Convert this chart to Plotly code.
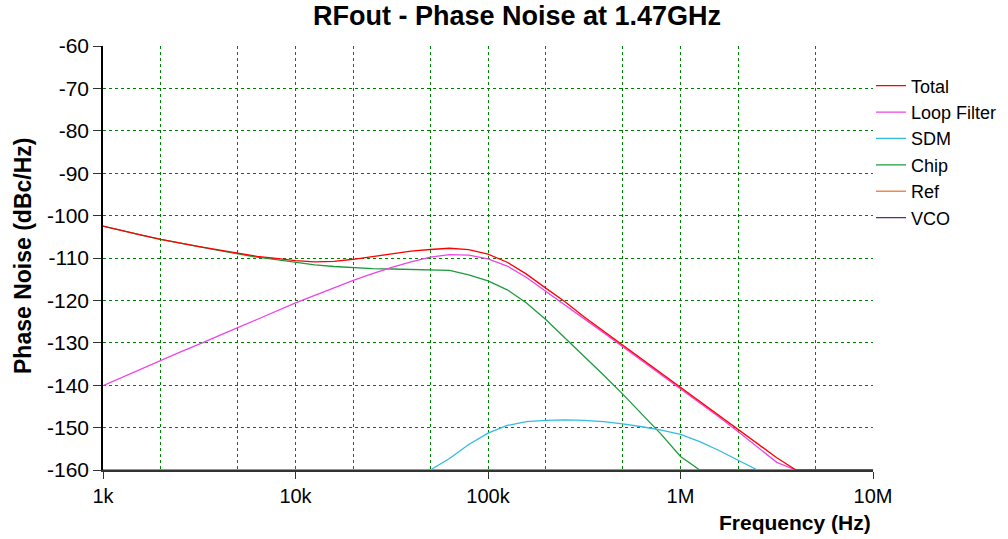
import plotly.graph_objects as go

# log10 of frequency, 10 points per decade
log_f = [3.0, 3.1, 3.2, 3.3, 3.4, 3.5, 3.6, 3.7, 3.8, 3.9,
         4.0, 4.1, 4.2, 4.3, 4.4, 4.5, 4.6, 4.7, 4.8, 4.9,
         5.0, 5.1, 5.2, 5.3, 5.4, 5.5, 5.6, 5.7, 5.8, 5.9,
         6.0, 6.1, 6.2, 6.3, 6.4, 6.5, 6.6, 6.7, 6.8, 6.9, 7.0]
freq = [10 ** v for v in log_f]

total = [-102.5, -103.6, -104.6, -105.6, -106.5, -107.3, -108.1, -108.9, -109.6, -110.1,
         -110.6, -110.9, -110.8, -110.3, -109.7, -109.0, -108.4, -108.0, -107.7, -108.0,
         -109.1, -111.0, -113.8, -117.1, -120.3, -123.9, -127.2, -130.5, -133.8, -137.1,
         -140.4, -143.7, -147.0, -150.3, -153.7, -157.1, -160.0, -160.0, -160.0, -160.0, -160.0]

loop_filter = [-140.1, -138.1, -136.1, -134.2, -132.2, -130.3, -128.3, -126.4, -124.5, -122.5,
               -120.6, -118.8, -117.0, -115.3, -113.7, -112.2, -110.9, -109.8, -109.2, -109.3,
               -110.2, -111.9, -114.6, -117.8, -121.0, -124.3, -127.6, -130.9, -134.2, -137.5,
               -140.8, -144.1, -147.5, -151.0, -154.5, -158.2, -160.0, -160.0, -160.0, -160.0, -160.0]

sdm = [-160.0, -160.0, -160.0, -160.0, -160.0, -160.0, -160.0, -160.0, -160.0, -160.0,
       -160.0, -160.0, -160.0, -160.0, -160.0, -160.0, -160.0, -160.0, -157.3, -154.0,
       -151.3, -149.5, -148.6, -148.3, -148.2, -148.3, -148.6, -149.1, -149.8, -150.6,
       -151.6, -153.3, -155.4, -157.8, -160.0, -160.0, -160.0, -160.0, -160.0, -160.0, -160.0]

chip = [-102.5, -103.6, -104.6, -105.6, -106.5, -107.3, -108.2, -109.0, -109.8, -110.4,
        -111.0, -111.6, -112.0, -112.3, -112.5, -112.6, -112.7, -112.7, -112.9, -114.0,
        -115.4, -117.5, -120.6, -124.5, -128.8, -133.2, -137.6, -142.1, -146.8, -151.6,
        -156.8, -160.0, -160.0, -160.0, -160.0, -160.0, -160.0, -160.0, -160.0, -160.0, -160.0]

ref = [-160.0] * len(log_f)
vco = [-160.0] * len(log_f)

series_names = ["Total", "Loop Filter", "SDM", "Chip", "Ref", "VCO"]
series_values = [total, loop_filter, sdm, chip, ref, vco]
series_colors = ["#ff0000", "#ee44e6", "#33bbe0", "#1e9a3c", "#f08a50", "#5a2a8a"]

x_tick_vals = [1e3, 1e4, 1e5, 1e6, 1e7]
x_tick_text = ["1k", "10k", "100k", "1M", "10M"]
x_minor_vals = [2e3, 5e3, 2e4, 5e4, 2e5, 5e5, 2e6, 5e6]
y_tick_vals = [-60, -70, -80, -90, -100, -110, -120, -130, -140, -150, -160]
y_tick_text = ["-60", "-70", "-80", "-90", "-100", "-110", "-120", "-130", "-140", "-150", "-160"]

FONT = "Liberation Sans, Arial, sans-serif"
GRID = "#008000"

L, R, T, B = 103, 135, 45.5, 68.5
PW = 1008 - L - R
PH = 539 - T - B

fig = go.Figure()
# draw in reverse so Total is on top, legend order kept by legendrank
for i in reversed(range(len(series_names))):
    fig.add_trace(go.Scatter(
        x=freq, y=series_values[i], mode="lines", name=series_names[i],
        line=dict(color=series_colors[i], width=1.3),
        legendrank=i + 1,
    ))

fig.update_layout(
    width=1008, height=539,
    margin=dict(l=L, r=R, t=T, b=B, autoexpand=False),
    paper_bgcolor="white", plot_bgcolor="white",
    font=dict(family=FONT, size=20, color="black"),
    title=dict(text="<b>RFout - Phase Noise at 1.47GHz</b>",
               x=517 / 1008, xanchor="center", xref="container",
               y=1 - 16 / 539, yanchor="middle", yref="container",
               font=dict(family=FONT, size=27, color="black")),
    legend=dict(x=(871 - L) / PW, xanchor="left", y=(539 - B - 67) / PH, yanchor="top",
                bgcolor="rgba(0,0,0,0)", font=dict(family=FONT, size=18, color="black"),
                itemwidth=30, tracegroupgap=0, traceorder="normal"),
    showlegend=True,
)

fig.update_xaxes(
    type="log", range=[3, 7],
    tickvals=x_tick_vals, ticktext=x_tick_text,
    ticks="outside", ticklen=7, tickcolor="#333333", tickwidth=1,
    showline=True, linecolor="#333333", linewidth=1.5,
    showgrid=True, gridcolor=GRID, griddash="dot", gridwidth=1,
    minor=dict(tickvals=x_minor_vals, showgrid=True, gridcolor=GRID, griddash="dot",
               gridwidth=1, ticks=""),
    tickfont=dict(family=FONT, size=20, color="black"),
    zeroline=False,
)
fig.update_yaxes(
    range=[-160, -60], tickvals=y_tick_vals, ticktext=y_tick_text,
    ticks="outside", ticklen=8, tickcolor="#333333", tickwidth=1,
    showline=True, linecolor="black", linewidth=1.5,
    showgrid=True, gridcolor=GRID, griddash="dot", gridwidth=1,
    tickfont=dict(family=FONT, size=21, color="black"),
    zeroline=False,
)

fig.add_annotation(text="<b>Frequency (Hz)</b>", xref="paper", yref="paper",
                   x=1.0, xanchor="right", y=(539 - B - 523) / PH, yanchor="middle",
                   showarrow=False, font=dict(family=FONT, size=21, color="black"))
fig.add_annotation(text="<b>Phase Noise (dBc/Hz)</b>", xref="paper", yref="paper",
                   x=(23 - L) / PW, xanchor="center", y=(539 - B - 256) / PH, yanchor="middle",
                   textangle=-90, showarrow=False,
                   font=dict(family=FONT, size=23, color="black"))

fig.write_html("out.html")
